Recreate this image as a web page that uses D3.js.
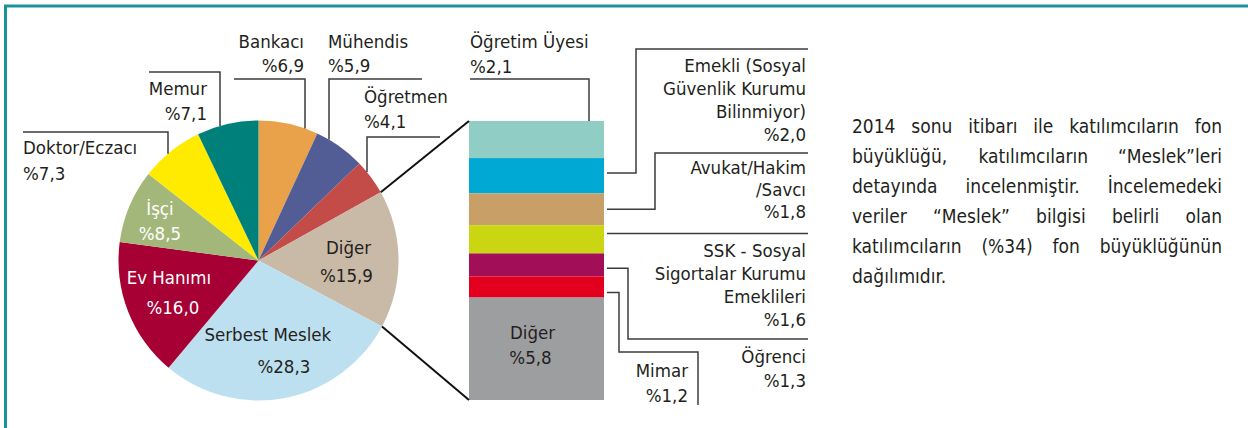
<!DOCTYPE html>
<meta charset="utf-8">
<style>
  body { margin: 0; background: #fff; }
  text { font-family: "DejaVu Sans Condensed", "DejaVu Sans", sans-serif; fill: #231f20; }
</style>
<svg width="1248" height="428"></svg>
<script src="https://d3js.org/d3.v7.min.js"></script>
<script>

// pie: occupation shares (clockwise from 12 o'clock)
var pieNames  = ["Bankacı", "Mühendis", "Öğretmen", "Diğer", "Serbest Meslek", "Ev Hanımı", "İşçi", "Doktor/Eczacı", "Memur"];
var pieValues = [6.9, 5.9, 4.1, 15.9, 28.3, 16.0, 8.5, 7.3, 7.1];
var pieColors = ["#eaa24a", "#535d95", "#c44c48", "#c9b9a7", "#bde0f0", "#a60034", "#a4b77b", "#ffeb00", "#00807b"];

// "Diğer" slice broken down in the stacked bar (top to bottom)
var barNames  = ["Öğretim Üyesi", "Emekli (Sosyal Güvenlik Kurumu Bilinmiyor)", "Avukat/Hakim /Savcı", "SSK - Sosyal Sigortalar Kurumu Emeklileri", "Öğrenci", "Mimar", "Diğer"];
var barValues = [2.1, 2.0, 1.8, 1.6, 1.3, 1.2, 5.8];
var barColors = ["#90cdc5", "#00a8d4", "#c89f66", "#cad612", "#a20e57", "#e2001e", "#9d9ea0"];

var note = [
  "2014 sonu itibarı ile katılımcıların fon",
  "büyüklüğü, katılımcıların “Meslek”leri",
  "detayında incelenmiştir. İncelemedeki",
  "veriler “Meslek” bilgisi belirli olan",
  "katılımcıların (%34) fon büyüklüğünün",
  "dağılımıdır."
];

var fmt = function(v) { return "%" + v.toFixed(1).replace(".", ","); };

var svg = d3.select("svg"),
    cx = 258.5, cy = 260.5, radius = 140,
    fs = 18.5,
    lineColor = "#3c3c3c";

// frame
svg.append("path")
    .attr("d", "M5.5,428V6H1248")
    .attr("fill", "none")
    .attr("stroke", "#1a929b")
    .attr("stroke-width", 3);

var g = svg.append("g").attr("transform", "translate(" + cx + "," + cy + ")");

var pie = d3.pie().sort(null).value(function(d) { return d; });
var arcs = pie(pieValues);
var arc = d3.arc().innerRadius(0).outerRadius(radius);

g.selectAll("path.slice")
  .data(arcs)
  .enter().append("path")
    .attr("class", "slice")
    .attr("fill", function(d, i) { return pieColors[i]; })
    .attr("d", arc);

// labels inside the pie
var inside = {
  "Diğer":          {r: 88, dy: -6, gap: 28, dx1: 2, dx2: 0, fill: "#231f20"},
  "Serbest Meslek": {r: 91, dy: -9, gap: 32, dx1: -8, dx2: 8, fill: "#231f20"},
  "Ev Hanımı":      {r: 94, dy: -11, gap: 30, dx1: -2, dx2: 2, fill: "#fff"},
  "İşçi":           {r: 107, dy: -4, gap: 25, dx1: 0, dx2: 0, fill: "#fff"}
};

arcs.forEach(function(d, i) {
  var o = inside[pieNames[i]];
  if (!o) return;
  var c = d3.arc().innerRadius(o.r).outerRadius(o.r).centroid(d);
  var t = g.append("text").attr("text-anchor", "middle").style("font-size", fs + "px").style("fill", o.fill);
  t.append("tspan").attr("x", c[0] + o.dx1).attr("y", c[1] + o.dy).text(pieNames[i]);
  t.append("tspan").attr("x", c[0] + o.dx2).attr("y", c[1] + o.dy + o.gap).text(fmt(pieValues[i]));
});

// labels outside the pie with elbow leaders
var outside = {
  "Bankacı":       {lx: 305, ly: 79, hx: 234, tx: 304, anchor: "end",   ty: 48, gap: 24},
  "Mühendis":      {lx: 329, ly: 79, hx: 422, tx: 328, anchor: "start", ty: 48, gap: 24},
  "Öğretmen":      {lx: 367, ly: 137, hx: 440, tx: 364, anchor: "start", ty: 103, gap: 25},
  "Memur":         {lx: 220, ly: 72, hx: 149, tx: 207, anchor: "end",   ty: 95, gap: 25},
  "Doktor/Eczacı": {lx: 168, ly: 132, hx: 23, tx: 23, anchor: "start", ty: 154, gap: 26}
};

pieNames.forEach(function(name, i) {
  var o = outside[name];
  if (!o) return;
  var dx = o.lx - cx,
      edgeY = cy - Math.sqrt(radius * radius - dx * dx);
  svg.append("path")
      .attr("d", "M" + o.hx + "," + o.ly + "H" + o.lx + "V" + edgeY)
      .attr("fill", "none")
      .attr("stroke", lineColor)
      .attr("stroke-width", 1.5);
  var t = svg.append("text").attr("text-anchor", o.anchor).style("font-size", fs + "px");
  t.append("tspan").attr("x", o.tx).attr("y", o.ty).text(name);
  t.append("tspan").attr("x", o.tx).attr("y", o.ty + o.gap).text(fmt(pieValues[i]));
});

// stacked bar
var barX = 469, barW = 135, barTop = 121, barBottom = 400;
var total = d3.sum(barValues);
var y = d3.scaleLinear().domain([0, total]).range([barTop, barBottom]);
var stack = [], acc = 0;
barValues.forEach(function(v, i) { stack.push({name: barNames[i], value: v, y0: acc, y1: acc + v, i: i}); acc += v; });

svg.selectAll("rect.seg")
  .data(stack)
  .enter().append("rect")
    .attr("class", "seg")
    .attr("x", barX)
    .attr("width", barW)
    .attr("y", function(d) { return y(d.y0); })
    .attr("height", function(d) { return y(d.y1) - y(d.y0); })
    .attr("fill", function(d) { return barColors[d.i]; });

// connectors from the "Diğer" slice to the bar
var other = arcs[pieNames.indexOf("Diğer")];
[[other.startAngle, barTop], [other.endAngle, barBottom]].forEach(function(p) {
  svg.append("line")
      .attr("x1", cx + radius * Math.sin(p[0]))
      .attr("y1", cy - radius * Math.cos(p[0]))
      .attr("x2", barX)
      .attr("y2", p[1])
      .attr("stroke", "#111")
      .attr("stroke-width", 2);
});

// bar labels
var barLabels = {
  "Öğretim Üyesi": {lines: ["Öğretim Üyesi"], tx: 470, anchor: "start", ty: 48, gap: 25},
  "Emekli (Sosyal Güvenlik Kurumu Bilinmiyor)": {lines: ["Emekli (Sosyal", "Güvenlik Kurumu", "Bilinmiyor)"], f: 0.42, path: [636, 49], tx: 806, anchor: "end", ty: 72, gap: 23},
  "Avukat/Hakim /Savcı": {lines: ["Avukat/Hakim", "/Savcı"], f: 0.5, path: [655, 153], tx: 806, anchor: "end", ty: 174, gap: 22},
  "SSK - Sosyal Sigortalar Kurumu Emeklileri": {lines: ["SSK - Sosyal", "Sigortalar Kurumu", "Emeklileri"], f: 0.29, path: null, tx: 806, anchor: "end", ty: 257, gap: 23},
  "Öğrenci": {lines: ["Öğrenci"], f: 0.65, path: [628, 339], tx: 806, anchor: "end", ty: 363, gap: 24},
  "Mimar": {lines: ["Mimar"], f: 0.76, path: [619, 352], tx: 688, anchor: "end", ty: 377, gap: 25}
};

var right = barX + barW;
stack.forEach(function(d) {
  var o = barLabels[d.name];
  if (!o) return;
  var d0;
  if (d.i === 0) {
    d0 = "M589," + y(d.y0) + "V79H470";
  } else {
    var sy = y(d.y0) + o.f * (y(d.y1) - y(d.y0));
    if (!o.path) d0 = "M" + (right + 3) + "," + sy + "H808";
    else if (d.name === "Mimar") d0 = "M" + (right + 3) + "," + sy + "H" + o.path[0] + "V" + o.path[1] + "H698V405";
    else d0 = "M" + (right + 3) + "," + sy + "H" + o.path[0] + "V" + o.path[1] + "H808";
  }
  svg.append("path")
      .attr("d", d0)
      .attr("fill", "none")
      .attr("stroke", lineColor)
      .attr("stroke-width", 1.5);
  var t = svg.append("text").attr("text-anchor", o.anchor).style("font-size", fs + "px");
  o.lines.concat([fmt(d.value)]).forEach(function(s, k) {
    t.append("tspan").attr("x", o.tx).attr("y", o.ty + k * o.gap).text(s);
  });
});

// label inside the grey segment
var last = stack[stack.length - 1];
var lt = svg.append("text").attr("text-anchor", "middle").style("font-size", fs + "px");
lt.append("tspan").attr("x", barX + barW / 2 - 4).attr("y", y(last.y0) + 41).text(last.name);
lt.append("tspan").attr("x", barX + barW / 2 - 6).attr("y", y(last.y0) + 66).text(fmt(last.value));

// justified note on the right
var noteX = 852, noteW = 370, noteY = 133, noteGap = 30, noteFs = 19;
note.forEach(function(line, k) {
  var words = line.split(" ");
  var t = svg.append("text").style("font-size", noteFs + "px");
  var spans = words.map(function(w) { return t.append("tspan").text(w); });
  var widths = spans.map(function(s) { return s.node().getComputedTextLength(); });
  var sum = d3.sum(widths);
  var space = (k < note.length - 1 && words.length > 1) ? (noteW - sum) / (words.length - 1) : noteFs * 0.3;
  var x = noteX;
  spans.forEach(function(s, j) {
    s.attr("x", x).attr("y", noteY + k * noteGap);
    x += widths[j] + space;
  });
});

</script>
